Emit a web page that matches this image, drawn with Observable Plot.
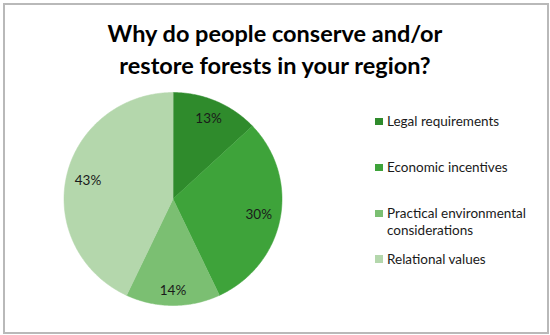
<!DOCTYPE html>
<html>
<head>
<meta charset="utf-8">
<script src="https://cdn.jsdelivr.net/npm/d3@7"></script>
<script src="https://cdn.jsdelivr.net/npm/@observablehq/plot@0.6"></script>
<style>
  html, body { margin: 0; padding: 0; background: #fff; }
  #chart { position: relative; width: 550px; height: 335px; background: #fff; overflow: hidden; font-family: Lato, "Open Sans", sans-serif; }
  #frame { position: absolute; left: 3px; top: 3px; width: 542px; height: 327px; border: 2px solid #b9b9b9; box-sizing: content-box; }
  #plot { position: absolute; left: 0; top: 0; }
  #title { position: absolute; left: 0; width: 550px; top: 17px; text-align: center; font-weight: 700; font-size: 23.5px; line-height: 32px; color: #000; }
  .leg { position: absolute; left: 375px; font-size: 13.5px; line-height: 17px; color: #1a1a1a; }
  .leg .sw { position: absolute; left: 0; top: 4.5px; width: 7.5px; height: 7.5px; }
  .leg .tx { position: absolute; left: 12px; white-space: nowrap; top: 0; }
</style>
</head>
<body>
<div id="chart">
  <div id="frame"></div>
  <div id="plot"></div>
  <div id="title">Why do people conserve and/or<br>restore forests in your region?</div>
  <div id="legend"></div>
</div>
<script>
// ---- data ----
const categories = ["Legal requirements", "Economic incentives", "Practical environmental considerations", "Relational values"];
const legendLines = [["Legal requirements"], ["Economic incentives"], ["Practical environmental", "considerations"], ["Relational values"]];
const shares = [13, 30, 14, 43];
const colors = ["#2f8b2c", "#3ea33a", "#7bbf72", "#b4d7ac"];

// ---- pie geometry via d3.pie ----
const rows = categories.map((c, i) => ({category: c, value: shares[i]}));
const arcs = d3.pie().sort(null).value(d => d.value)(rows);

const outline = [];
for (const a of arcs) {
  outline.push({category: a.data.category, x: 0, y: 0});
  const n = Math.max(8, Math.ceil((a.endAngle - a.startAngle) / 0.01));
  for (let k = 0; k <= n; k++) {
    const t = a.startAngle + (a.endAngle - a.startAngle) * k / n;
    outline.push({category: a.data.category, x: Math.sin(t), y: Math.cos(t)});
  }
}

// label placement: "inside end" – keep the label box inside the rim
const halfW = 13 / 109, halfH = 7 / 107;
const labels = arcs.map(a => {
  const m = (a.startAngle + a.endAngle) / 2;
  const r = 0.93 - (halfW * Math.abs(Math.sin(m)) + halfH * Math.abs(Math.cos(m)));
  return {category: a.data.category, text: a.data.value + "%", x: r * Math.sin(m), y: r * Math.cos(m)};
});

const plot = Plot.plot({
  width: 550,
  height: 335,
  margin: 0,
  style: {background: "transparent", fontFamily: "Lato, 'Open Sans', sans-serif"},
  x: {domain: [-1, 1], range: [63.5, 281.5], axis: null},
  y: {domain: [-1, 1], range: [305, 92], axis: null},
  color: {domain: categories, range: colors},
  marks: [
    Plot.line(outline, {x: "x", y: "y", z: "category", fill: "category", stroke: "category", strokeWidth: 0.5, curve: "linear-closed"}),
    Plot.text(labels, {x: "x", y: "y", text: "text", fontSize: 13.5, fill: "#1a1a1a"})
  ]
});
document.getElementById("plot").appendChild(plot);

// ---- legend ----
const legend = document.getElementById("legend");
const firstLineCenters = [121.5, 167.7, 213.7, 259.3];
categories.forEach((c, i) => {
  const item = document.createElement("div");
  item.className = "leg";
  item.style.top = (firstLineCenters[i] - 8.5) + "px";
  const sw = document.createElement("div");
  sw.className = "sw";
  sw.style.background = colors[i];
  const tx = document.createElement("div");
  tx.className = "tx";
  tx.innerHTML = legendLines[i].join("<br>");
  item.appendChild(sw);
  item.appendChild(tx);
  legend.appendChild(item);
});
</script>
</body>
</html>
